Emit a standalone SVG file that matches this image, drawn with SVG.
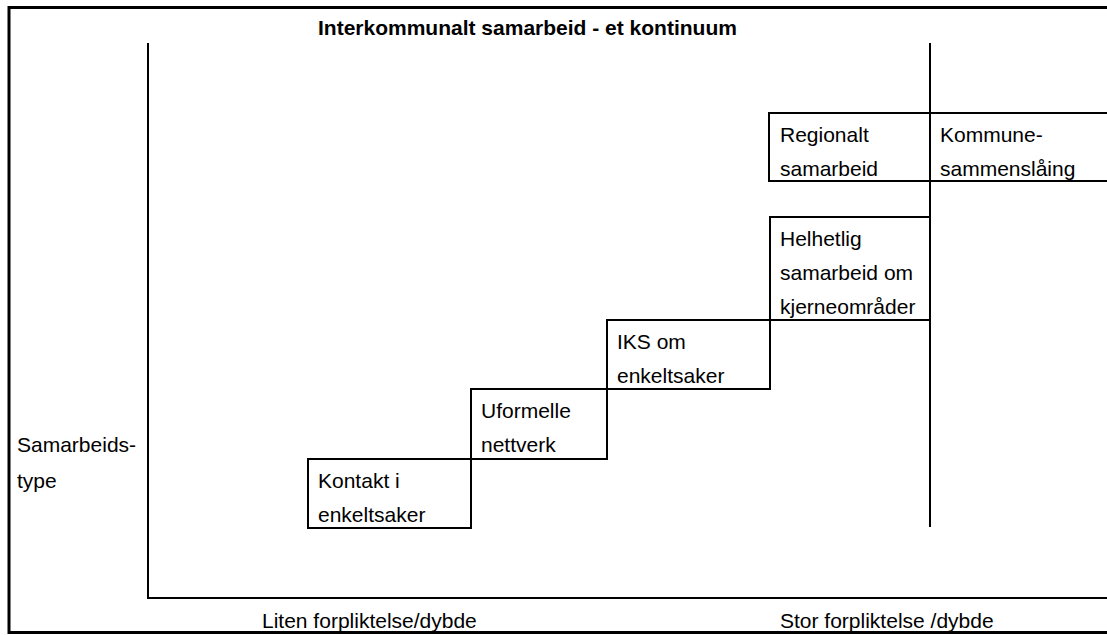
<svg xmlns="http://www.w3.org/2000/svg" width="1107" height="635" viewBox="0 0 1107 635">
<style>
.t{font-family:"Liberation Sans",Arial,sans-serif;font-size:21px;fill:#000}
.b{font-weight:bold}
.ln{stroke:#000;stroke-width:2;fill:none}
.box{stroke:#000;stroke-width:2;fill:#fff}
</style>
<rect width="1107" height="635" fill="#fff"/>
<rect x="9" y="7.5" width="1110" height="625" fill="none" stroke="#000" stroke-width="3"/>
<text class="t b" x="318" y="35">Interkommunalt samarbeid - et kontinuum</text>
<g id="axes">
<line class="ln" x1="148" y1="43" x2="148" y2="598"/>
<line class="ln" x1="147" y1="598" x2="1107" y2="598"/>
<line class="ln" x1="930" y1="43" x2="930" y2="527"/>
</g>
<g id="n-kontakt"><rect class="box" x="308" y="459" width="163" height="69"/><text class="t" x="318" y="488">Kontakt i</text><text class="t" x="318" y="522">enkeltsaker</text></g>
<g id="n-uformelle"><rect class="box" x="471" y="389" width="136" height="70"/><text class="t" x="481" y="418">Uformelle</text><text class="t" x="481" y="452">nettverk</text></g>
<g id="n-iks"><rect class="box" x="607" y="320" width="163" height="69"/><text class="t" x="617" y="349">IKS om</text><text class="t" x="617" y="383">enkeltsaker</text></g>
<g id="n-helhetlig"><rect class="box" x="770" y="217" width="160" height="103"/><text class="t" x="780" y="246">Helhetlig</text><text class="t" x="780" y="280">samarbeid om</text><text class="t" x="780" y="314">kjerneområder</text></g>
<g id="n-regional"><path class="ln" d="M1107 113H769V181H1107"/><line class="ln" x1="930" y1="113" x2="930" y2="181"/><text class="t" x="780" y="142">Regionalt</text><text class="t" x="780" y="176">samarbeid</text></g>
<g id="n-kommune"><text class="t" x="940" y="142">Kommune-</text><text class="t" x="940" y="176">sammenslåing</text></g>
<g id="labels">
<text class="t" x="17" y="452">Samarbeids-</text>
<text class="t" x="17" y="488">type</text>
<text class="t" x="262" y="628">Liten forpliktelse/dybde</text>
<text class="t" x="780" y="628">Stor forpliktelse /dybde</text>
</g>
</svg>
